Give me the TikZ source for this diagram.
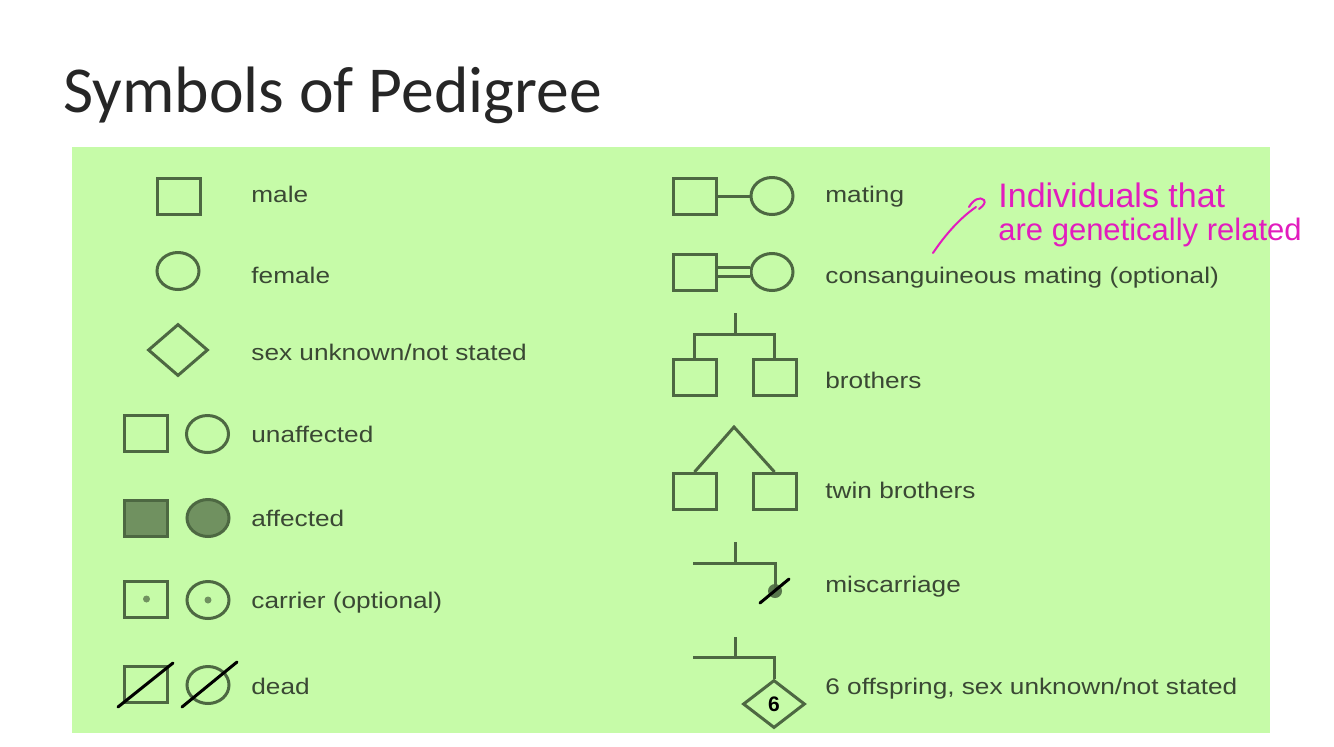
\documentclass[tikz,border=0pt]{standalone}
\usepackage{fontspec}
\setmainfont{Liberation Sans}
\newfontfamily\titlefont{Carlito}
\newfontfamily\lblfont[FakeStretch=1.16]{Liberation Sans}
\usetikzlibrary{shapes.geometric}
\definecolor{panel}{RGB}{198,251,168}
\definecolor{sym}{RGB}{77,104,66}
\definecolor{fillg}{RGB}{112,145,96}
\definecolor{lbl}{RGB}{58,72,52}
\definecolor{ink}{RGB}{226,28,190}
\definecolor{titlec}{RGB}{38,38,38}
\begin{document}
\begin{tikzpicture}[x=0.5pt,y=-0.5pt,
 sq/.style={draw=sym,line width=1.5pt,rectangle,inner sep=0pt,minimum width=21.5pt,minimum height=18pt},
 el/.style={draw=sym,line width=1.5pt,ellipse,inner sep=0pt,minimum width=21pt,minimum height=18.5pt},
 dm/.style={draw=sym,line width=1.5pt,diamond,inner sep=0pt},
 aff/.style={fill=fillg},
 dotn/.style={circle,fill=fillg,inner sep=0pt,minimum size=3.5pt},
 lab/.style={anchor=base west,inner sep=0pt,text=lbl,font=\lblfont\fontsize{11.3}{13}\selectfont},
 con/.style={draw=sym,line width=1.5pt},
 slash/.style={draw=black,line width=1.5pt,line cap=round},
 note/.style={anchor=base west,inner sep=0pt,text=ink},
 pen/.style={draw=ink,line width=1pt,line cap=round,line join=round}]

\path[use as bounding box, fill=white] (0,0) rectangle (1334,746);
\fill[panel] (72,147) rectangle (1270,733);
\node[anchor=base west,inner sep=0pt,text=titlec,font=\titlefont\fontsize{32.8}{36}\selectfont] (title) at (63,112) {Symbols of Pedigree};

% ---- left column ----
\node[sq] (male) at (178.5,196) {};
\node[lab] (lmale) at (251,202) {male};
\node[el] (female) at (178,271) {};
\node[lab] (lfemale) at (251,283) {female};
\node[dm,minimum width=30pt,minimum height=26pt] (unk) at (178,350) {};
\node[lab] (lunk) at (251,360) {sex unknown/not stated};

\node[sq] (usq) at (145.5,433.5) {};
\node[el] (uci) at (207.5,434) {};
\node[lab] (lun) at (251,442) {unaffected};

\node[sq,aff] (asq) at (145.5,518) {};
\node[el,aff] (aci) at (208,518) {};
\node[lab] (laf) at (251,526) {affected};

\node[sq] (csq) at (145.5,599) {};
\node[dotn] (csqd) at (146.5,599) {};
\node[el] (cci) at (208,600) {};
\node[dotn] (ccid) at (208,600) {};
\node[lab] (lca) at (251,608) {carrier (optional)};

\node[sq] (dsq) at (145.5,684) {};
\node[el] (dci) at (208,685) {};
\draw[slash] ([shift={(-27.5,23)}]dsq.center) -- ([shift={(27.5,-21)}]dsq.center);
\draw[slash] ([shift={(-26,22)}]dci.center) -- ([shift={(29,-23)}]dci.center);
\node[lab] (lde) at (251,694) {dead};

% ---- right column ----
\node[sq] (msq) at (694.5,196) {};
\node[el] (mci) at (772,196) {};
\draw[con] (msq.east) -- (mci.west);
\node[lab] (lma) at (825,202) {mating};

\node[sq] (ksq) at (694.5,272) {};
\node[el] (kci) at (772,272) {};
\draw[draw=sym,line width=1.1pt,double=panel,double distance=3.4pt] (ksq.east) -- (kci.west);
\node[lab] (lko) at (825,283) {consanguineous mating (optional)};

\node[sq] (b1) at (694.5,377) {};
\node[sq] (b2) at (774.5,377) {};
\coordinate (bt) at (735,313);
\coordinate (bj) at (735,334);
\draw[con] (bt) -- (bj);
\draw[con,line join=miter] (b1.north) -- (b1.north |- bj) -- (b2.north |- bj) -- (b2.north);
\node[lab] (lbr) at (825,388) {brothers};

\node[sq] (t1) at (694.5,491.5) {};
\node[sq] (t2) at (774.5,491.5) {};
\coordinate (ta) at (734,427);
\draw[con,line join=miter] (t1.north) -- (ta) -- (t2.north);
\node[lab] (ltw) at (825,498) {twin brothers};

\coordinate (mt) at (735,542);
\coordinate (ml) at (693,563);
\node[circle,fill={rgb,255:red,88;green,118;blue,76},inner sep=0pt,minimum size=7pt] (mis) at (775,591) {};
\draw[con] (mt) -- (mt |- ml);
\draw[con,line join=miter] (ml) -- (ml -| mis) -- (mis.center);
\draw[slash] ([shift={(-15,12)}]mis.center) -- ([shift={(14,-12)}]mis.center);
\node[lab] (lmi) at (825,592) {miscarriage};

\coordinate (st) at (735,637);
\coordinate (sl) at (693,657);
\node[dm,minimum width=31pt,minimum height=24pt,font=\bfseries\fontsize{10.5}{12}\selectfont,text=black] (six) at (774,704) {6};
\draw[con] (st) -- (st |- sl);
\draw[con,line join=miter] (sl) -- (sl -| six.north) -- (six.north);
\node[lab] (lsi) at (825,694) {6 offspring, sex unknown/not stated};

% ---- annotation ----
\node[note,font=\fontsize{17}{19}\selectfont] (n1) at (998,207) {Individuals that};
\node[note,font=\fontsize{15.5}{17}\selectfont] (n2) at (998,240) {are genetically related};
\coordinate (a0) at (933,253);
\coordinate (a1) at (976,207);
\draw[pen] (a0) .. controls (945,235) and (960,218) .. (a1);
\draw[pen] (969,207) .. controls (973,200) and (980,196) .. (984,200) .. controls (986,203) and (983,206) .. (979,209);
\end{tikzpicture}
\end{document}
